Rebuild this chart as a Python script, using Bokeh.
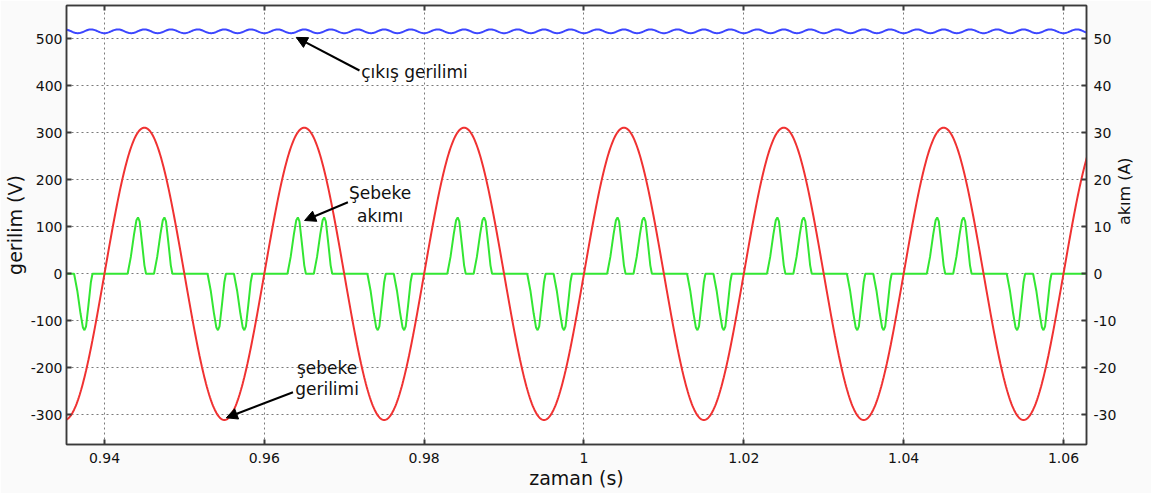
import numpy as np
from math import pi
from bokeh.plotting import figure
from bokeh.models import (Range1d, LinearAxis, FixedTicker, Label, Arrow,
                          NormalHead, CustomJSTickFormatter)
from bokeh.embed import file_html
from bokeh.resources import INLINE

# ---------------- data ----------------
x_ticks = [0.94, 0.96, 0.98, 1.00, 1.02, 1.04, 1.06]
x_tick_labels = ["0.94", "0.96", "0.98", "1", "1.02", "1.04", "1.06"]
v_ticks = [-300, -200, -100, 0, 100, 200, 300, 400, 500]
a_ticks = [-30, -20, -10, 0, 10, 20, 30, 40, 50]

t_start, t_end = 0.93525, 1.06288

# grid voltage (red): peak value and frequency
grid_peak_v = 311.0
grid_freq_hz = 50.0

# output voltage (blue): mean level and small ripple
dc_mean_v = 516.0
dc_ripple_v = 4.0
dc_ripple_hz = 300.0

# grid current (green): pulses in each 20 ms period
period_starts = [0.92, 0.94, 0.96, 0.98, 1.00, 1.02, 1.04, 1.06]
pulse_offsets = [0.0042, 0.0075, 0.0142, 0.0175]
pulse_signs = [1, 1, -1, -1]
pulse_peak_a = 12.0
pulse_shape_dt = [-0.0013, -0.0009, -0.0005, -0.0002, 0.0, 0.0002, 0.0005, 0.0008, 0.0010]
pulse_shape_frac = [0.0, 0.30, 0.70, 0.95, 1.0, 0.93, 0.55, 0.15, 0.0]

# ---------------- build series ----------------
t = np.arange(0.934, 1.064, 0.0001)
v_grid = grid_peak_v * np.sin(2 * np.pi * grid_freq_hz * t)
v_dc = dc_mean_v - dc_ripple_v * np.cos(2 * np.pi * dc_ripple_hz * (t - 0.94))

gt, gi = [], []
for T in period_starts:
    for off, s in zip(pulse_offsets, pulse_signs):
        for dt, f in zip(pulse_shape_dt, pulse_shape_frac):
            gt.append(T + off + dt)
            gi.append(s * f * pulse_peak_a)

# ---------------- figure ----------------
p = figure(width=1151, height=493,
           x_range=Range1d(t_start, t_end),
           y_range=Range1d(-363.2, 570.9),
           output_backend="svg", toolbar_location=None,
           min_border_left=65, min_border_right=65,
           min_border_top=5, min_border_bottom=49)
p.extra_y_ranges = {"amps": Range1d(-36.32, 57.09)}

p.background_fill_color = "white"
p.border_fill_color = "#fafafa"
p.outline_line_color = "#3a3a3a"
p.outline_line_width = 1.5

axis_col = "#3a3a3a"
tick_font = "DejaVu Sans"

def style_axis(ax, size="14px"):
    ax.axis_line_color = axis_col
    ax.axis_line_width = 1.5
    ax.major_tick_in = 5
    ax.major_tick_out = 0
    ax.major_tick_line_color = axis_col
    ax.major_tick_line_width = 2
    ax.minor_tick_line_color = None
    ax.major_label_text_font = tick_font
    ax.major_label_text_font_size = size
    ax.major_label_text_color = "#111111"
    ax.axis_label_text_font = "DejaVu Sans"
    ax.axis_label_text_font_style = "normal"
    ax.axis_label_text_color = "#111111"

xfmt = CustomJSTickFormatter(args=dict(tvals=x_ticks, tlabels=x_tick_labels), code="""
let best = 0;
for (let i = 0; i < tvals.length; i++) {
  if (Math.abs(tvals[i] - tick) < Math.abs(tvals[best] - tick)) best = i;
}
return tlabels[best];
""")
yfmt = CustomJSTickFormatter(code="return String(Math.round(tick));")

xa = p.xaxis[0]
xa.ticker = FixedTicker(ticks=x_ticks)
xa.formatter = xfmt
style_axis(xa)
xa.major_label_standoff = 8
xa.axis_label = "zaman (s)"
xa.axis_label_text_font_size = "19px"
xa.axis_label_standoff = 1

ya = p.yaxis[0]
ya.ticker = FixedTicker(ticks=v_ticks)
ya.formatter = yfmt
style_axis(ya)
ya.major_label_standoff = 4
ya.axis_label = "gerilim (V)"
ya.axis_label_text_font_size = "19px"
ya.axis_label_standoff = 2

ra = LinearAxis(y_range_name="amps", ticker=FixedTicker(ticks=a_ticks), formatter=yfmt)
style_axis(ra)
ra.major_label_standoff = 7
ra.axis_label = "akım  (A)"
ra.axis_label_text_font_size = "16px"
ra.axis_label_standoff = 5
if "axis_label_orientation" in ra.properties():
    ra.axis_label_orientation = pi / 2
p.add_layout(ra, "right")

ta = LinearAxis(ticker=FixedTicker(ticks=x_ticks),
                formatter=CustomJSTickFormatter(code="return '';"))
style_axis(ta)
ta.major_label_standoff = 0
p.add_layout(ta, "above")

for g in (p.xgrid[0], p.ygrid[0]):
    g.grid_line_color = "#7a7a7a"
    g.grid_line_dash = "2 3"
    g.grid_line_width = 1
p.xgrid[0].ticker = FixedTicker(ticks=x_ticks)
p.ygrid[0].ticker = FixedTicker(ticks=v_ticks)

# ---------------- lines ----------------
p.line(gt, gi, y_range_name="amps", line_color="#33e633", line_width=2)
p.line(t, v_grid, line_color="#f03232", line_width=2)
p.line(t, v_dc, line_color="#3c46ff", line_width=2)

# ---------------- annotations ----------------
def arrow(x0, y0, x1, y1):
    p.add_layout(Arrow(end=NormalHead(size=11, fill_color="black", line_color="black"),
                       x_start=x0, y_start=y0, x_end=x1, y_end=y1,
                       line_color="black", line_width=2))

def txt(x, y, s, align="left", size="17px"):
    p.add_layout(Label(x=x, y=y, text=s, text_align=align, text_baseline="middle",
                       text_font="DejaVu Sans", text_font_size=size, text_color="#111111"))

arrow(0.97191, 432.6, 0.9640, 503.0)
txt(0.97213, 429.0, "çıkış gerilimi")

arrow(0.97046, 152.3, 0.96504, 113.4)
txt(0.9745, 172.0, "Şebeke", "center")
txt(0.9745, 124.0, "akımı", "center")

arrow(0.96359, -252.0, 0.95525, -306.4)
txt(0.96785, -200.0, "şebeke", "center")
txt(0.96785, -246.0, "gerilimi", "center")

open("out.html", "w").write(file_html(p, INLINE))
